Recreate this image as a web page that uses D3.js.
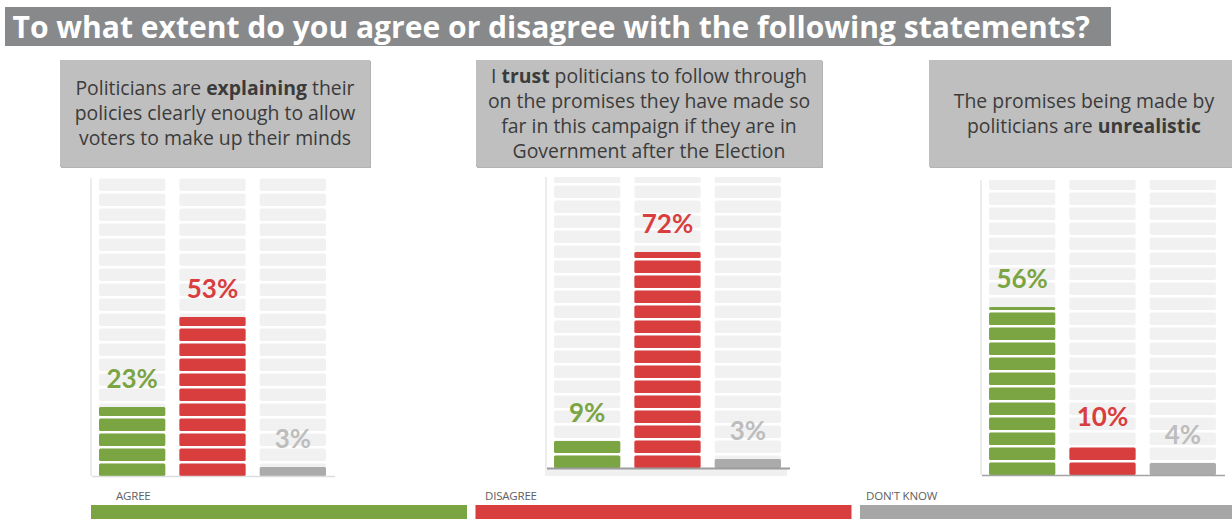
<!DOCTYPE html>
<html>
<head>
<meta charset="utf-8">
<script src="https://cdn.jsdelivr.net/npm/d3@7/dist/d3.min.js"></script>
<style>
  html, body { margin: 0; padding: 0; background: #ffffff; }
  svg { display: block; }
</style>
</head>
<body>
<svg id="chart" width="1232" height="521"></svg>
<script>
// ---- data ----
const titleText = "To what extent do you agree or disagree with the following statements?";
const categories = ["AGREE", "DISAGREE", "DON'T KNOW"];
const agreeValues = [23, 9, 56];
const disagreeValues = [53, 72, 10];
const dontKnowValues = [3, 3, 4];
// statement lines; **...** marks bold words
const statementLines = [
  ["Politicians are **explaining** their", "policies clearly enough to allow", "voters to make up their minds"],
  ["I **trust** politicians to follow through", "on the promises they have made so", "far in this campaign if they are in", "Government after the Election"],
  ["The promises being made by", "politicians are **unrealistic**"]
];

// ---- styling ----
const colors = ["#7ba443", "#d93e3e", "#ababab"];
const labelColors = ["#7ba443", "#d93e3e", "#bdbdbd"];
const legendColors = ["#7ba443", "#d93e3e", "#a6a6a6"];

// panel layout: column extent, baseline, visible top, statement box
const panels = [
  { x0: 92, x1: 333, base: 476, top: 178, boxX: 60, boxW: 310, axis: "#dddddd", band: false },
  { x0: 547, x1: 788, base: 468, top: 177, boxX: 476, boxW: 346, axis: "#9c9c9c", band: true },
  { x0: 982, x1: 1223, base: 475, top: 180, boxX: 929, boxW: 310, axis: "#a3a3a3", band: false }
];

const svg = d3.select("#chart");

// ---- title ----
svg.append("rect").attr("x", 5).attr("y", 7).attr("width", 1106).attr("height", 39).attr("fill", "#87898b");
const title = svg.append("text")
  .attr("x", 12.5).attr("y", 38)
  .attr("fill", "#ffffff")
  .style("font-family", "'Open Sans', sans-serif")
  .style("font-weight", 700)
  .style("font-size", "30px")
  .text(titleText);
{
  const w = title.node().getComputedTextLength();
  title.style("font-size", (30 * 1078 / w).toFixed(2) + "px");
}

// ---- statement boxes ----
const boxTop = 60, boxH = 107, linePitch = 25, boxFont = 19.4;
panels.forEach((p, i) => {
  svg.append("rect").attr("x", p.boxX + 1).attr("y", boxTop + 1).attr("width", p.boxW).attr("height", boxH)
    .attr("fill", "#b3b3b3");
  svg.append("rect").attr("x", p.boxX).attr("y", boxTop).attr("width", p.boxW).attr("height", boxH)
    .attr("fill", "#bfbfbf");
  const lines = statementLines[i];
  const cy = boxTop + boxH / 2;
  const cx = p.boxX + (i === 2 ? 155 : p.boxW / 2);
  lines.forEach((ln, j) => {
    const t = svg.append("text")
      .attr("x", cx)
      .attr("y", cy + (j - (lines.length - 1) / 2) * linePitch + boxFont * 0.36)
      .attr("text-anchor", "middle")
      .attr("fill", "#3b3b3b")
      .style("font-family", "'Open Sans', sans-serif")
      .style("font-size", boxFont + "px");
    ln.split("**").forEach((part, k) => {
      if (!part) return;
      t.append("tspan").style("font-weight", k % 2 ? 700 : 400).text(part);
    });
  });
});

// ---- pictogram columns ----
const step = 5, gap = 2.5;
const rows = d3.range(0, 100, step);

panels.forEach((p, i) => {
  const values = [agreeValues[i], disagreeValues[i], dontKnowValues[i]];
  const x = d3.scaleBand().domain(categories).range([p.x0, p.x1]).paddingInner(0.175).paddingOuter(0.0875);
  const y = d3.scaleLinear().domain([0, 100]).range([p.base, p.base - 300]);

  const clipId = "clip" + i;
  svg.append("clipPath").attr("id", clipId)
    .append("rect").attr("x", p.x0 - 10).attr("y", p.top).attr("width", p.x1 - p.x0 + 20).attr("height", p.base - p.top + 10);

  const g = svg.append("g").attr("clip-path", `url(#${clipId})`);

  // faint left edge
  g.append("line").attr("x1", p.x0 - 1).attr("x2", p.x0 - 1).attr("y1", p.top).attr("y2", p.base)
    .attr("stroke", "#ececec").attr("stroke-width", 2);

  categories.forEach((c, ci) => {
    // background rows
    g.selectAll(null).data(rows).enter().append("rect")
      .attr("x", x(c)).attr("width", x.bandwidth())
      .attr("y", d => y(d + step) + gap)
      .attr("height", d => y(d) - y(d + step) - gap)
      .attr("rx", 2)
      .attr("fill", "#f1f1f1");

    // value rows, cut at the value
    const v = values[ci];
    const filled = rows.filter(d => d < v);
    g.selectAll(null).data(filled).enter().append("rect")
      .attr("x", x(c)).attr("width", x.bandwidth())
      .attr("y", d => Math.max(y(Math.min(d + step, v)), y(d + step) + gap))
      .attr("height", d => y(d) - Math.max(y(Math.min(d + step, v)), y(d + step) + gap))
      .attr("rx", 1.5)
      .attr("fill", colors[ci]);
  });

  // light band under the middle panel
  if (p.band) {
    svg.append("rect").attr("x", p.x0 - 2).attr("y", p.base).attr("width", p.x1 - p.x0 + 1).attr("height", 8)
      .attr("fill", "#f0f0f0");
  }

  // baseline
  svg.append("line").attr("x1", p.x0).attr("x2", p.x1 + 2).attr("y1", p.base + 0.5).attr("y2", p.base + 0.5)
    .attr("stroke", p.axis).attr("stroke-width", p.band ? 2 : 1.5);

  // value labels
  categories.forEach((c, ci) => {
    const v = values[ci];
    svg.append("text")
      .attr("x", x(c) + x.bandwidth() / 2)
      .attr("y", y(v) - 19)
      .attr("text-anchor", "middle")
      .attr("fill", labelColors[ci])
      .style("font-family", "Lato, sans-serif")
      .style("font-weight", 700)
      .style("font-size", "26px")
      .text(v + "%");
  });
});

// ---- legend ----
const legendX = d3.scaleBand().domain(categories).range([91, 1236]).paddingInner(0.022);
const legendTextX = [116, 485, 866];
categories.forEach((c, ci) => {
  svg.append("rect")
    .attr("x", legendX(c)).attr("y", 505)
    .attr("width", ci === 2 ? 1232 - legendX(c) : legendX.bandwidth()).attr("height", 14)
    .attr("fill", legendColors[ci]);
  svg.append("text")
    .attr("x", legendTextX[ci]).attr("y", 500)
    .attr("fill", "#606060")
    .style("font-family", "'Open Sans', sans-serif")
    .style("font-size", "11.5px")
    .style("letter-spacing", "-0.2px")
    .text(c);
});
</script>
</body>
</html>
